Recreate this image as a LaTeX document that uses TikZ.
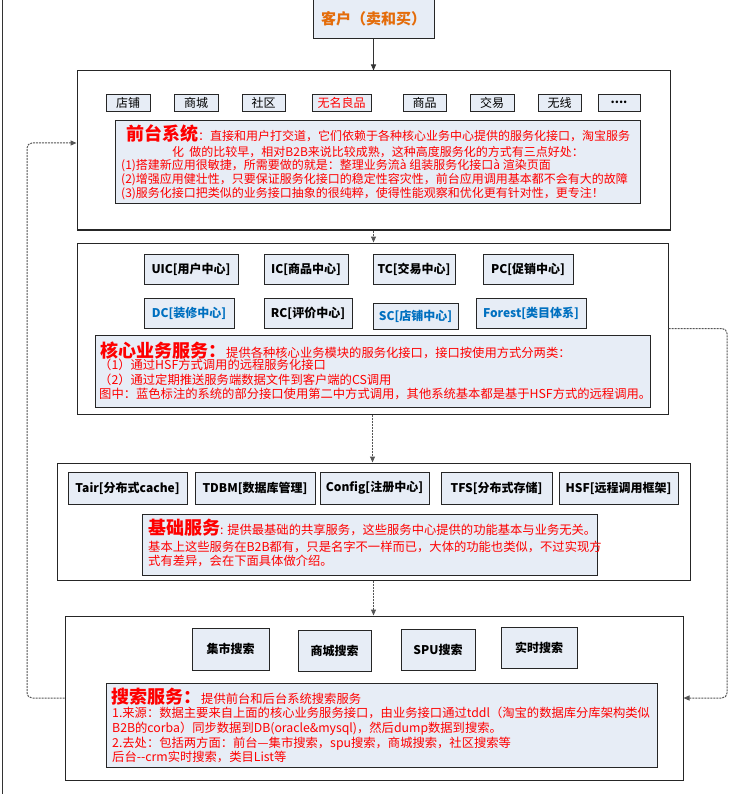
\documentclass[tikz,border=0pt]{standalone}
\usepackage{fontspec}
\setmainfont{Noto Sans CJK SC}
\usetikzlibrary{shadows,arrows.meta}
\definecolor{boxfill}{HTML}{E7EDF6}
\definecolor{txtred}{HTML}{FF0000}
\definecolor{txtblue}{HTML}{0070C0}
\definecolor{txtorange}{HTML}{E46C0A}
\definecolor{arrgray}{HTML}{555555}
\newcommand{\mytitle}[1]{{\fontsize{18}{20}\selectfont\bfseries #1}}
\begin{document}
\begin{tikzpicture}[x=1pt,y=-1pt,
  outer/.style={draw=black!85,line width=1pt,fill=white,inner sep=0,
    drop shadow={shadow xshift=1pt,shadow yshift=-1pt,fill=black!50,opacity=.5}},
  tab/.style={draw=black!85,line width=.9pt,fill=boxfill,inner sep=0,minimum height=17pt,
    font=\fontsize{12}{14}\selectfont,
    drop shadow={shadow xshift=1pt,shadow yshift=-1pt,fill=black!60,opacity=.6}},
  svc/.style={draw=black!85,line width=.9pt,fill=boxfill,inner sep=0,minimum height=30pt,
    font=\fontsize{12}{14}\selectfont\bfseries,
    drop shadow={shadow xshift=1pt,shadow yshift=-1pt,fill=black!50,opacity=.5}},
  descbox/.style={draw=black!85,line width=1pt,fill=boxfill,inner sep=0},
  desc/.style={anchor=base west,inner sep=0,text=txtred,font=\fontsize{12.3}{14}\selectfont},
  conn/.style={draw=arrgray,line width=1pt,dashed,dash pattern=on 2pt off 1pt,
    -{Triangle[length=6pt,width=5pt]}},
  loopc/.style={conn,rounded corners=5pt}
]
\useasboundingbox (0,0) rectangle (751,794);
\draw[line width=.8pt,black!80] (2,0) -- (2,794);

% customer
\node[draw=black!85,line width=1pt,fill=boxfill,inner sep=0,minimum width=121pt,minimum height=41pt,
  font=\fontsize{15}{17}\selectfont\bfseries,text=txtorange] (cust) at (373.5,18.5) {客户（卖和买）};

% ---------- front ----------
\node[outer,minimum width=593pt,minimum height=159pt] (front) at (373.5,150.5) {};
\node[tab,minimum width=44pt] (t1) at (128,102.5) {店铺};
\node[tab,minimum width=44pt] (t2) at (196,102.5) {商城};
\node[tab,minimum width=43pt] (t3) at (263.5,102.5) {社区};
\node[tab,minimum width=59pt,text=txtred] (t4) at (341.5,102.5) {无名良品};
\node[tab,minimum width=43pt] (t5) at (424.5,102.5) {商品};
\node[tab,minimum width=44pt] (t6) at (492,102.5) {交易};
\node[tab,minimum width=43pt] (t7) at (559.5,102.5) {无线};
\node[tab,minimum width=42pt,font=\fontsize{12}{14}\selectfont\bfseries] (t8) at (619,102.5) {....};
\node[descbox,minimum width=525pt,minimum height=83pt] (fdesc) at (377.5,162.5) {};
\node[desc,font=\fontsize{12}{14}\selectfont] (fl1) at (126,141) {\mytitle{前台系统}：直接和用户打交道，它们依赖于各种核心业务中心提供的服务化接口，淘宝服务};
\node[desc,font=\fontsize{12}{14}\selectfont,anchor=base] (fl2) at (378,156.5) {化\ \ 做的比较早，相对B2B来说比较成熟，这种高度服务化的方式有三点好处：};
\node[desc,font=\fontsize{12}{14}\selectfont] (fl3) at (121,170) {(1)搭建新应用很敏捷，所需要做的就是：整理业务流à 组装服务化接口à 渲染页面};
\node[desc,font=\fontsize{12}{14}\selectfont] (fl4) at (121,184) {(2)增强应用健壮性，只要保证服务化接口的稳定性容灾性，前台应用调用基本都不会有大的故障};
\node[desc,font=\fontsize{12}{14}\selectfont] (fl5) at (121,198) {(3)服务化接口把类似的业务接口抽象的很纯粹，使得性能观察和优化更有针对性，更专注！};

% ---------- core ----------
\node[outer,minimum width=591pt,minimum height=171pt] (core) at (372.5,328.5) {};
\node[svc,minimum width=94pt] (uic) at (191,269) {UIC[用户中心]};
\node[svc,minimum width=84pt] (ic) at (306,269) {IC[商品中心]};
\node[svc,minimum width=82pt] (tc) at (414,269) {TC[交易中心]};
\node[svc,minimum width=90pt] (pc) at (528,269) {PC[促销中心]};
\node[svc,minimum width=90pt,text=txtblue] (dc) at (189,313) {DC[装修中心]};
\node[svc,minimum width=88pt] (rc) at (308,313) {RC[评价中心]};
\node[svc,minimum width=85pt,minimum height=26pt,text=txtblue] (sc) at (415.5,316) {SC[店铺中心]};
\node[svc,minimum width=110pt,text=txtblue] (forest) at (531,313) {Forest[类目体系]};
\node[descbox,minimum width=555pt,minimum height=72pt] (cdesc) at (372.5,371) {};
\node[desc] (cl1) at (100,357.5) {\mytitle{核心业务服务：}提供各种核心业务模块的服务化接口，接口按使用方式分两类：};
\node[desc] (cl2) at (99,369) {（1）通过HSF方式调用的远程服务化接口};
\node[desc] (cl3) at (99,384) {（2）通过定期推送服务端数据文件到客户端的CS调用};
\node[desc] (cl4) at (99,398.5) {图中：蓝色标注的系统的部分接口使用第二中方式调用，其他系统基本都是基于HSF方式的远程调用。};

% ---------- base ----------
\node[outer,minimum width=633pt,minimum height=117pt] (base) at (373.5,521.5) {};
\node[svc,minimum width=119pt,minimum height=32pt] (tair) at (127.5,488) {Tair[分布式cache]};
\node[svc,minimum width=120pt,minimum height=32pt] (tdbm) at (255,488) {TDBM[数据库管理]};
\node[svc,minimum width=109pt,minimum height=32pt] (config) at (374.5,488) {Config[注册中心]};
\node[svc,minimum width=111pt,minimum height=32pt] (tfs) at (496.5,488) {TFS[分布式存储]};
\node[svc,minimum width=119pt,minimum height=32pt] (hsf) at (618.5,488) {HSF[远程调用框架]};
\node[descbox,minimum width=455pt,minimum height=61pt] (bdesc) at (369.5,544.5) {};
\node[desc] (bl1) at (148,534.5) {\mytitle{基础服务}: 提供最基础的共享服务，这些服务中心提供的功能基本与业务无关。};
\node[desc] (bl2) at (148,551.5) {基本上这些服务在B2B都有，只是名字不一样而已，大体的功能也类似，不过实现方};
\node[desc] (bl3) at (148,565) {式有差异，会在下面具体做介绍。};

% ---------- search ----------
\node[outer,minimum width=618pt,minimum height=164pt] (search) at (374,698) {};
\node[svc,minimum width=77pt,minimum height=42pt] (s1) at (230.5,649) {集市搜索};
\node[svc,minimum width=73pt,minimum height=41pt] (s2) at (334.5,650.5) {商城搜索};
\node[svc,minimum width=74pt,minimum height=41pt] (s3) at (438,649.5) {SPU搜索};
\node[svc,minimum width=76pt,minimum height=41pt] (s4) at (539,647.5) {实时搜索};
\node[descbox,minimum width=551pt,minimum height=84pt] (sdesc) at (381.5,725) {};
\node[desc] (sl1) at (111,703.5) {\mytitle{搜索服务：}提供前台和后台系统搜索服务};
\node[desc] (sl2) at (112,717.5) {1.来源：数据主要来自上面的核心业务服务接口，由业务接口通过tddl（淘宝的数据库分库架构类似};
\node[desc] (sl3) at (112,732) {B2B的corba）同步数据到DB(oracle\&mysql)，然后dump数据到搜索。};
\node[desc] (sl4) at (112,747) {2.去处：包括两方面：前台—集市搜索，spu搜索，商城搜索，社区搜索等};
\node[desc] (sl5) at (112,761) {后台{-}{-}crm实时搜索，类目List等};

% ---------- connectors ----------
\draw[draw=black!80,line width=1pt,-{Triangle[length=6pt,width=5pt]}] (cust.south) -- (cust.south |- front.north);
\draw[conn] (front.south) -- (front.south |- core.north);
\draw[conn] (core.south) -- (core.south |- base.north);
\draw[conn] (base.south) -- (base.south |- search.north);
\coordinate (lcol) at (27,400);
\coordinate (rcol) at (727,500);
\draw[loopc] (search.west) -| (lcol) |- ([yshift=7.5pt]front.west);
\draw[loopc] (core.east) -| (rcol) |- (search.east);
\end{tikzpicture}
\end{document}
